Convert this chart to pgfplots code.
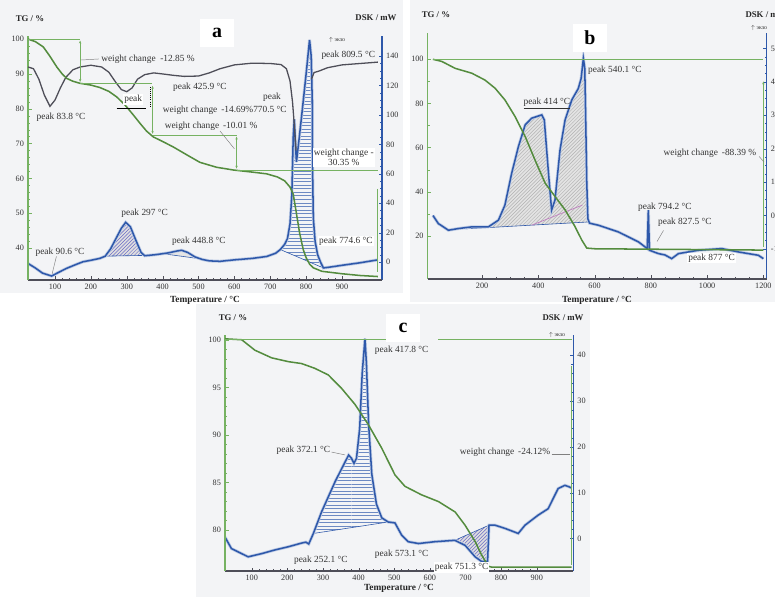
\documentclass[border=0pt]{standalone}
\usepackage{fontspec}
\setmainfont{Liberation Serif}
\usepackage{pgfplots}
\usepackage{pgfplotstable}
\pgfplotsset{compat=1.18}
\usetikzlibrary{patterns,arrows.meta}

\definecolor{tgreen}{RGB}{84,140,62}
\definecolor{lgreen}{RGB}{118,178,98}
\definecolor{dblue}{RGB}{46,88,170}
\definecolor{dgray}{RGB}{78,78,88}
\definecolor{bgc}{RGB}{243,244,246}

% DSC curves (T / degC, DSK / mW)
\pgfplotstableread{
T D
25 -1
45 -4
65 -7.5
90.6 -9.5
110 -7
132 -4.3
160 -1.5
178 0.2
200 1.2
225 2.5
240 4
255 9
270 16
285 23
297 27
310 24
325 15
340 6.5
350 4.3
380 5
415 6.2
440 7.5
453 8
470 6.5
490 3.5
510 1.8
530 0.8
560 0.5
600 1.5
650 2.5
690 3.8
715 6
728 8.5
740 12
748 16
755 26
760 45
764 85
767 97
770 80
773 68
781 85
790 105
800 128
809.5 151
814 140
817 110
818 62
820 30
825 14
832 5
840 0
848 -4
870 -3.3
900 -2.2
950 -0.5
1000 1.5
}\dsca

\pgfplotstableread{
T D
25 0
44 -2.4
80 -4.4
116 -3.9
163 -3.4
222 -3.4
258 -1.4
281 3.1
305 12.6
329 20.6
353 27.1
376 29.1
412 30.1
421 28.6
436 12.6
447 1.6
459 4.6
477 19.6
495 28.6
519 34.6
542 38
552 41
560 47
565 44
568 30
572 10
576 -1
582 -2.3
613 -2.9
684 -4.9
756 -7.9
787 -9.9
791 1.6
795 -10.4
827 -11.4
850 -11.8
874 -12.9
898 -11.4
969 -10.4
1052 -9.9
1111 -10.9
1182 -11.9
1200 -12.9
}\dscb

\pgfplotstableread{
T D
25 0.3
43 -2.2
90 -4
128 -3.3
165 -2.5
203 -1.8
240 -1
252 -0.8
260 -1.2
273 1.1
296 5.8
334 12.4
362 16.7
372 18.2
380 17.5
387 16.4
394 17.5
403 24
410 36
417.8 43.6
422 38
428 25
437 14
450 7.5
465 4.5
483 3.6
502 3.4
521 0.7
539 -0.7
568 -1.1
614 -0.7
670 -0.4
699 -1.5
727 -4
745 -5
762 -5
766 2.9
783 2.9
811 2.2
848 1.1
867 2.9
904 5.1
932 6.5
960 10.9
979 11.6
990 11.3
998 11
}\dscc

\pgfplotsset{
  base/.style={scale only axis, anchor=south west,
    /pgf/number format/assume math mode=true, /pgf/number format/1000 sep={},
    tick label style={font=\fontsize{7}{8}\selectfont, text=black!80},
    tick align=inside, major tick length=3pt, minor tick length=1.6pt},
  tg/.style={base, axis x line*=bottom, axis y line*=left, clip=false,
    x axis line style={dgray, line width=0.9pt, -},
    y axis line style={lgreen, line width=0.9pt, -},
    x tick style={dgray}, y tick style={lgreen}},
  dsk/.style={base, axis x line*=top, axis y line*=right, xtick=\empty,
    x axis line style={draw=none},
    y axis line style={dblue, line width=1.1pt, -}, y tick style={dblue}},
  glow/.style={dblue!30, line width=2.6pt},
  bluecurve/.style={dblue, line width=1.3pt},
  hatchfill/.style={draw=none, fill=gray!25},
  diag/.style={draw=none, pattern=north east lines, pattern color=gray!55!blue!80},
  horiz/.style={draw=none, pattern=horizontal lines, pattern color=dblue!70},
}
\tikzset{
  lbl/.style={font=\fontsize{8}{9}\selectfont, text=black!80, inner sep=1pt},
  axt/.style={font=\fontsize{7.5}{9}\selectfont\bfseries, text=black!85},
  ttl/.style={font=\fontsize{17}{18}\selectfont\bfseries, fill=white, minimum width=1cm, minimum height=0.85cm},
  darr/.style={arrows={Stealth[length=2.5pt,width=2pt]-Stealth[length=2.5pt,width=2pt]}},
  uarr/.style={arrows={Stealth[length=2.5pt,width=2pt]-}},
}

\begin{document}
\begin{tikzpicture}
\begin{scope}[x=0.03cm,y=-0.03cm]
\fill[bgc] (0,0) rectangle (403,293);
\fill[bgc] (410,0) rectangle (775,302);
\fill[bgc] (196,304) rectangle (590,597);
\end{scope}

% ---------------- panel a ----------------
\begin{axis}[dsk, at={(0.84cm,-8.4cm)}, width=10.62cm, height=7.32cm,
  xmin=24.7, xmax=1011.5, ymin=-12.2, ymax=153.6,
  ytick={0,20,...,140}, minor y tick num=3]
  \addplot[hatchfill] coordinates {(240,4)(255,9)(270,16)(285,23)(297,27)(310,24)(325,15)(340,6.5)(348,4.5)} -- cycle;
  \addplot[diag] coordinates {(240,4)(255,9)(270,16)(285,23)(297,27)(310,24)(325,15)(340,6.5)(348,4.5)} -- cycle;
  \addplot[hatchfill, fill=gray!20] coordinates {(400,5.7)(415,6.2)(440,7.5)(453,8)(470,6.5)(490,3.5)(505,2.2)} -- cycle;
  \addplot[horiz] coordinates {(728,8.5)(740,12)(748,16)(755,26)(760,45)(764,85)(767,97)(770,80)(773,68)(781,85)(790,105)(800,128)(809.5,151)(814,140)(817,110)(818,62)(820,30)(825,14)(832,5)(840,0)(848,-4)} -- cycle;
  \addplot[dblue, line width=0.5pt] coordinates {(240,4)(348,4.5)};
  \addplot[dblue, line width=0.5pt] coordinates {(400,5.7)(505,2.2)};
  \addplot[dblue, line width=0.5pt] coordinates {(728,8.5)(848,-4)};
  \addplot[glow] table[x=T, y=D] {\dsca};
  \addplot[bluecurve] table[x=T, y=D] {\dsca};
\end{axis}

\begin{axis}[tg, at={(0.84cm,-8.4cm)}, width=10.62cm, height=7.32cm,
  xmin=24.7, xmax=1011.5, ymin=30.8, ymax=100.9,
  xtick={100,200,...,900}, ytick={40,50,...,100},
  minor x tick num=4, minor y tick num=4]
  \addplot[dgray, line width=1.1pt] coordinates {
    (25,92)(40,91.5)(55,88.5)(70,84)(86,80.7)(100,82.5)(115,86)(130,89)(150,91.2)
    (170,92)(200,92.5)(230,92)(250,90.5)(270,87.5)(285,85.5)(300,84.9)(315,86)
    (330,88.5)(350,89.8)(375,90.3)(400,90)(430,89.6)(460,89.3)(500,89.4)(530,90.3)
    (560,91.5)(600,92.6)(650,93.1)(700,93)(730,92.7)(745,91.5)(755,88)(762,82)
    (768,74)(772,68)};
  \addplot[dgray, line width=1.1pt] coordinates {
    (815,88.5)(822,90.4)(835,90.8)(860,91.8)(900,92.6)(950,93)(1000,93.4)};
  \addplot[tgreen, line width=1.3pt] coordinates {
    (25,100)(45,99.3)(67,97.8)(85,95.2)(105,92)(120,90)(133,88.7)(150,87.9)(170,87.3)
    (200,86.8)(225,86.1)(250,85)(272,83.4)(290,81.6)(300,80.5)(320,78)(337,75.8)
    (355,73.6)(374,71.9)(400,70.6)(430,69)(470,66.6)(504,64.6)(550,63.2)(597,62.4)
    (650,61.8)(690,61.3)(720,60.4)(740,59.3)(755,57.5)(764,55.5)(772,50.5)(782,44.2)
    (792,39.5)(800,37.2)(810,35.3)(820,34.3)(844,33.3)(900,32.6)(950,32.1)(1000,31.8)};
  \addplot[lgreen, line width=0.7pt] coordinates {(25,100)(170,100)};
  \addplot[lgreen, line width=0.6pt, darr] coordinates {(170,99.6)(170,87.7)};
  \addplot[lgreen, line width=0.7pt] coordinates {(170,87.3)(370,87.3)};
  \addplot[lgreen, line width=0.6pt, darr] coordinates {(372,86.6)(372,72.8)};
  \addplot[lgreen, line width=0.7pt] coordinates {(372,72.4)(606,72.4)};
  \addplot[lgreen, line width=0.6pt, darr] coordinates {(606,72)(606,62.8)};
  \addplot[lgreen, line width=0.7pt] coordinates {(606,62.4)(1000,62.4)};
  \addplot[lgreen, line width=0.7pt] coordinates {(1000,57)(1000,33)};
  \addplot[black, line width=0.9pt] coordinates {(272,80)(355,80)};
  \addplot[black, densely dotted, line width=0.8pt] coordinates {(366,86.3)(366,80.8)};
  \addplot[gray, thin] coordinates {(172,94)(222,94.3)};
  \addplot[gray, thin] coordinates {(560,73.6)(600,68.5)};
  \addplot[gray, thin] coordinates {(92,32.6)(104,37.6)};
  \node[lbl, anchor=west] at (axis cs:225,94.3) {weight change \ -12.85 \%};
  \node[lbl, anchor=west] at (axis cs:45,77.6) {peak 83.8 °C};
  \node[lbl] at (axis cs:504,86.1) {peak 425.9 °C};
  \node[lbl, fill=white] at (axis cs:318,82.7) {peak};
  \node[lbl, anchor=west] at (axis cs:397,79.6) {weight change \,-14.69\%770.5 °C};
  \node[lbl] at (axis cs:705,83.4) {peak};
  \node[lbl, anchor=west] at (axis cs:402,75) {weight change \,-10.01 \%};
  \node[lbl, fill=white, align=center] at (axis cs:905,66) {weight change -\\30.35 \%};
  \node[lbl, anchor=west] at (axis cs:839,95.5) {peak 809.5 °C};
  \node[lbl] at (axis cs:350,49.9) {peak 297 °C};
  \node[lbl] at (axis cs:501,42) {peak 448.8 °C};
  \node[lbl] at (axis cs:114,38.9) {peak 90.6 °C};
  \node[lbl, fill=white] at (axis cs:911,42) {peak 774.6 °C};
\end{axis}

% ---------------- panel b ----------------
\begin{axis}[dsk, at={(12.831cm,-8.37cm)}, width=10.17cm, height=7.38cm,
  xmin=6.5, xmax=1212, ymin=-19, ymax=54.6,
  ytick={-10,0,...,50}, minor y tick num=3]
  \addplot[hatchfill, fill=gray!22] coordinates {(222,-3.6)(258,-1.4)(281,3.1)(305,12.6)(329,20.6)(353,27.1)(376,29.1)(412,30.1)(421,28.6)(436,12.6)(447,1.6)(459,4.6)(477,19.6)(495,28.6)(519,34.6)(542,38)(552,41)(560,47)(565,44)(568,30)(572,10)(576,-1)(582,-2)} -- cycle;
  \addplot[diag, pattern color=gray!60] coordinates {(222,-3.6)(258,-1.4)(281,3.1)(305,12.6)(329,20.6)(353,27.1)(376,29.1)(412,30.1)(421,28.6)(436,12.6)(447,1.6)(459,4.6)(477,19.6)(495,28.6)(519,34.6)(542,38)(552,41)(560,47)(565,44)(568,30)(572,10)(576,-1)(582,-2)} -- cycle;
  \addplot[dblue, line width=0.5pt] coordinates {(140,-4)(584,-1.9)};
  \addplot[violet!50, line width=0.6pt] coordinates {(376,-2.9)(556,3.1)};
  \addplot[glow] table[x=T, y=D] {\dscb};
  \addplot[bluecurve] table[x=T, y=D] {\dscb};
\end{axis}

\begin{axis}[tg, at={(12.831cm,-8.37cm)}, width=10.17cm, height=7.38cm,
  xmin=6.5, xmax=1212, ymin=0.5, ymax=111.9,
  xtick={200,400,...,1200}, ytick={20,40,...,100},
  minor x tick num=3, minor y tick num=1]
  \addplot[tgreen, line width=1.3pt] coordinates {
    (25,100)(57,99)(104,95.9)(163,93.7)(210,90.6)(246,86.9)(281,81.6)(317,74.1)
    (353,65)(388,54.4)(424,43.9)(459,37.9)(495,31.8)(530,24.3)(554,18.2)(572,14.5)
    (600,14.2)(800,14)(1000,13.8)(1200,13.6)};
  \addplot[lgreen, line width=0.7pt] coordinates {(25,100)(1200,100)};
  \addplot[lgreen, line width=0.6pt, uarr] coordinates {(1200,90)(1200,15)};
  \addplot[gray, thin] coordinates {(1185,56)(1202,53.5)};
  \addplot[gray, thin] coordinates {(845,22.5)(822,17.5)};
  \addplot[gray, thin] coordinates {(965,8.5)(935,12)};
  \node[lbl, anchor=west] at (axis cs:572,95.2) {peak 540.1 °C};
  \node[lbl] at (axis cs:430,79.8) {\underline{peak 414 °C}};
  \node[lbl] at (axis cs:1010,57.5) {weight change \,-88.39 \%};
  \node[lbl] at (axis cs:850,33) {peak 794.2 °C};
  \node[lbl] at (axis cs:921,26) {peak 827.5 °C};
  \node[lbl, fill=white] at (axis cs:1016,10) {peak 877 °C};
\end{axis}

% ---------------- panel c ----------------
\begin{axis}[dsk, at={(6.75cm,-17.13cm)}, width=10.45cm, height=7.08cm,
  xmin=25, xmax=1002.7, ymin=-7.1, ymax=44.4,
  ytick={0,10,...,40}, minor y tick num=4]
  \addplot[horiz] coordinates {(273,1.1)(296,5.8)(334,12.4)(362,16.7)(372,18.2)(380,17.5)(387,16.4)(394,17.5)(403,24)(410,36)(417.8,43.6)(422,38)(428,25)(437,14)(450,7.5)(465,4.5)(483,3.6)} -- cycle;
  \addplot[hatchfill] coordinates {(670,-0.4)(699,-1.5)(727,-4)(745,-5)(762,-5)(766,2.9)} -- cycle;
  \addplot[diag] coordinates {(670,-0.4)(699,-1.5)(727,-4)(745,-5)(762,-5)(766,2.9)} -- cycle;
  \addplot[dblue, line width=0.5pt] coordinates {(273,1.1)(483,3.6)};
  \addplot[dblue, line width=0.5pt] coordinates {(670,-0.4)(766,2.9)};
  \addplot[glow] table[x=T, y=D] {\dscc};
  \addplot[bluecurve] table[x=T, y=D] {\dscc};
\end{axis}

\begin{axis}[tg, at={(6.75cm,-17.13cm)}, width=10.45cm, height=7.08cm,
  xmin=25, xmax=1002.7, ymin=75.7, ymax=100.5,
  xtick={100,200,...,900}, ytick={80,85,...,100},
  minor x tick num=4, minor y tick num=4]
  \addplot[tgreen, line width=1.3pt] coordinates {
    (25,100.1)(72,100)(109,98.9)(156,98.1)(203,97.7)(240,97.5)(277,97)(315,96.3)
    (352,94.9)(390,93.2)(427,91.1)(465,88.6)(502,85.8)(530,84.6)(577,83.7)(624,83)
    (671,81.9)(699,80.5)(727,78.8)(745,77.4)(764,76.2)(775,76.1)(998,76.1)};
  \addplot[lgreen, line width=0.7pt] coordinates {(25,100)(530,100)};
  \addplot[lgreen, line width=0.7pt] coordinates {(624,100)(998,100)};
  \addplot[lgreen, line width=0.7pt] coordinates {(998,97.2)(998,76.3)};
  \addplot[gray, thin] coordinates {(324,88.2)(362,87.9)};
  \addplot[gray, thin] coordinates {(942,88)(992,88)};
  \node[lbl] at (axis cs:521,98.9) {peak 417.8 °C};
  \node[lbl] at (axis cs:245,88.4) {peak 372.1 °C};
  \node[lbl] at (axis cs:294,76.8) {peak 252.1 °C};
  \node[lbl] at (axis cs:521,77.5) {peak 573.1 °C};
  \node[lbl, fill=white] at (axis cs:689,76.1) {peak 751.3 °C};
  \node[lbl] at (axis cs:811,88.2) {weight change \,-24.12\%};
\end{axis}

% ---------------- free texts ----------------
\begin{scope}[x=0.03cm,y=-0.03cm]
\node[axt] at (30,19) {TG / \%};
\node[axt] at (376,18) {DSK / mW};
\node[ttl] at (217,33) {a};
\node[axt, font=\fontsize{8}{9}\selectfont\bfseries] at (205,300) {Temperature / °C};
\node[lbl, font=\fontsize{5}{6}\selectfont] at (337,40) {$\uparrow$ экзо};

\node[axt] at (436,15) {TG / \%};
\node[axt] at (766,15) {DSK / mW};
\node[ttl] at (590,38) {b};
\node[axt, font=\fontsize{8}{9}\selectfont\bfseries] at (597,300) {Temperature / °C};
\node[lbl, font=\fontsize{5}{6}\selectfont] at (759,28) {$\uparrow$ экзо};

\node[axt] at (233,318) {TG / \%};
\node[axt] at (563,318) {DSK / mW};
\node[ttl] at (403,328) {c};
\node[axt, font=\fontsize{8}{9}\selectfont\bfseries] at (399,588) {Temperature / °C};
\node[lbl, font=\fontsize{5}{6}\selectfont] at (557,335) {$\uparrow$ экзо};

\pgfresetboundingbox
\path[use as bounding box] (0,0) rectangle (775,597);
\end{scope}
\end{tikzpicture}
\end{document}
